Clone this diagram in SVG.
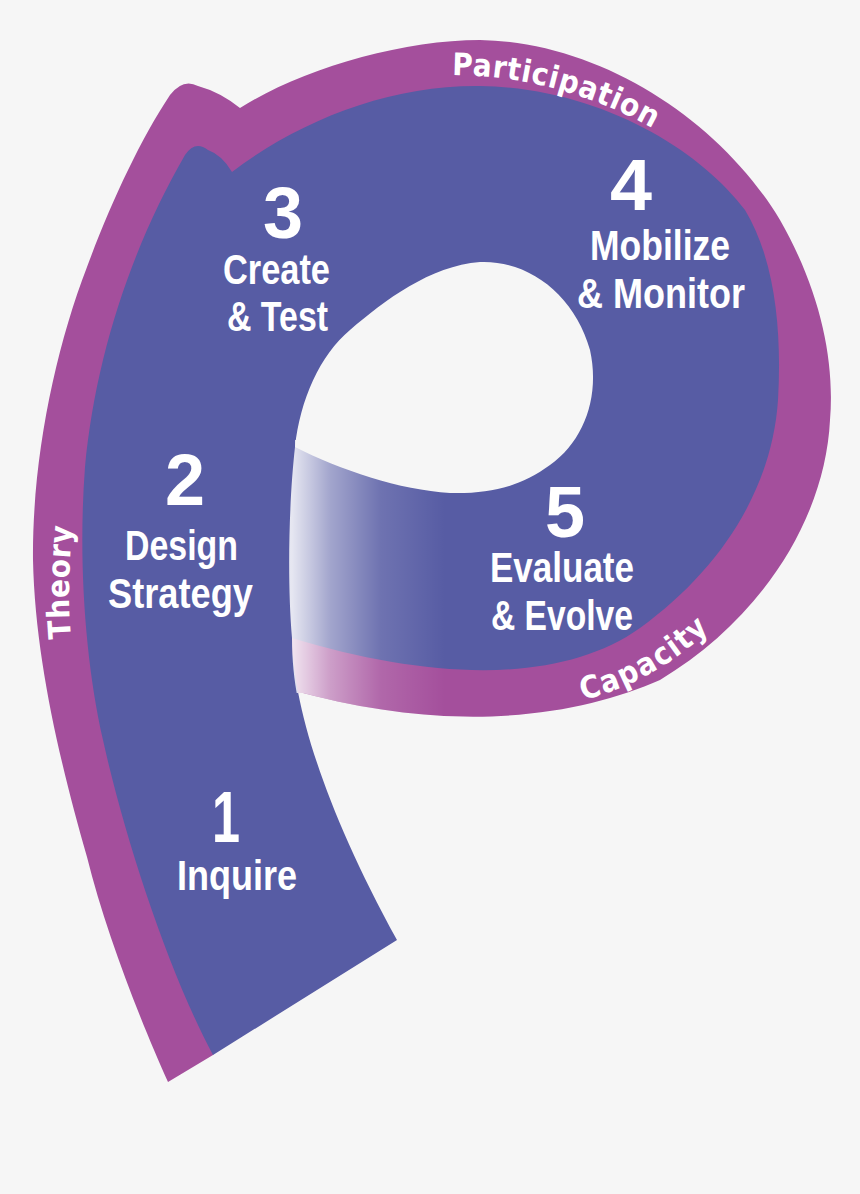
<svg xmlns="http://www.w3.org/2000/svg" width="860" height="1194" viewBox="0 0 860 1194">
<style>
.num{font-family:'Liberation Sans',Arial,sans-serif;font-weight:bold;fill:#ffffff;font-size:72px}
.lbl{font-family:'Liberation Sans',Arial,sans-serif;font-weight:bold;fill:#ffffff;font-size:42px}
.arc{font-family:'DejaVu Sans Condensed','Liberation Sans',sans-serif;font-weight:bold;fill:#ffffff;font-size:31px}
</style>
<defs>
<path id="mag" d="M168,1082 C140,1020 105,930 87,857 C62,770 35,660 33,560 C32,460 55,350 87,267 C110,205 140,140 170,95 Q183,78 198,86 Q220,92 240,108 C300,70 400,40 480,40 C600,42 720,120 780,220 C820,290 835,360 830,420 C825,520 760,620 660,680 C580,715 460,735 303,693 L288,693 L240,1000 L213,1055 Z"/>
<clipPath id="magClip"><use href="#mag"/></clipPath>
<linearGradient id="fade" gradientUnits="userSpaceOnUse" x1="292" y1="0" x2="445" y2="0">
<stop offset="0" stop-color="#ffffff" stop-opacity="0.85"/>
<stop offset="0.25" stop-color="#ffffff" stop-opacity="0.45"/>
<stop offset="0.58" stop-color="#ffffff" stop-opacity="0.14"/>
<stop offset="1" stop-color="#ffffff" stop-opacity="0"/>
</linearGradient>
<path id="pPart" d="M452,75 Q570,76 672,140"/>
<path id="pCap" d="M583,700 Q672,678 740,598"/>
<path id="pThe" d="M71,638 Q66,580 74,512"/>
</defs>
<rect width="860" height="1194" fill="#f6f6f6"/>
<g id="shape">
<use href="#mag" fill="#a44f9c"/>
<path id="blue" fill="#575ca4" d="M213,1055 C170,975 125,840 103,740 C85,660 78,560 85,467 C95,360 130,250 185,155 Q195,140 208,150 Q222,155 232,172 C300,120 390,85 480,86 C600,88 700,150 745,210 C775,260 782,330 778,400 C772,490 720,570 640,628 C560,685 430,680 292,638 C293,700 320,800 397,940 Z"/>
<path id="fadeband" fill="url(#fade)" clip-path="url(#magClip)" d="M295,440 L450,440 L450,740 L300,740 L298,700 C294,680 292,660 292,638 C287,580 289,500 295,447 Z"/>
<path id="hole" fill="#f6f6f6" d="M295,447 C300,400 320,355 350,330 C385,300 430,266 480,262 C530,260 575,296 590,350 C600,395 585,440 550,465 C520,487 490,494 450,493 C400,490 340,470 295,447 Z"/>
</g>
<g id="ring-labels">
<text class="arc"><textPath href="#pPart" textLength="210" lengthAdjust="spacing">Participation</textPath></text>
<text class="arc"><textPath href="#pCap" textLength="146" lengthAdjust="spacing">Capacity</textPath></text>
<text class="arc"><textPath href="#pThe" textLength="112" lengthAdjust="spacing">Theory</textPath></text>
</g>
<g id="step1"><text class="num" x="212" y="842" textLength="28" lengthAdjust="spacingAndGlyphs">1</text><text class="lbl" x="177" y="890" textLength="120" lengthAdjust="spacingAndGlyphs">Inquire</text></g>
<g id="step2"><text class="num" x="165" y="505" textLength="40" lengthAdjust="spacingAndGlyphs">2</text><text class="lbl" x="125" y="560" textLength="113" lengthAdjust="spacingAndGlyphs">Design</text><text class="lbl" x="108" y="608" textLength="145" lengthAdjust="spacingAndGlyphs">Strategy</text></g>
<g id="step3"><text class="num" x="263" y="238" textLength="40" lengthAdjust="spacingAndGlyphs">3</text><text class="lbl" x="223" y="284" textLength="107" lengthAdjust="spacingAndGlyphs">Create</text><text class="lbl" x="227" y="331" textLength="101" lengthAdjust="spacingAndGlyphs">&amp; Test</text></g>
<g id="step4"><text class="num" x="610" y="210" textLength="42" lengthAdjust="spacingAndGlyphs">4</text><text class="lbl" x="590" y="260" textLength="140" lengthAdjust="spacingAndGlyphs">Mobilize</text><text class="lbl" x="577" y="308" textLength="168" lengthAdjust="spacingAndGlyphs">&amp; Monitor</text></g>
<g id="step5"><text class="num" x="545" y="537" textLength="40" lengthAdjust="spacingAndGlyphs">5</text><text class="lbl" x="490" y="582" textLength="144" lengthAdjust="spacingAndGlyphs">Evaluate</text><text class="lbl" x="491" y="630" textLength="142" lengthAdjust="spacingAndGlyphs">&amp; Evolve</text></g>
</svg>
